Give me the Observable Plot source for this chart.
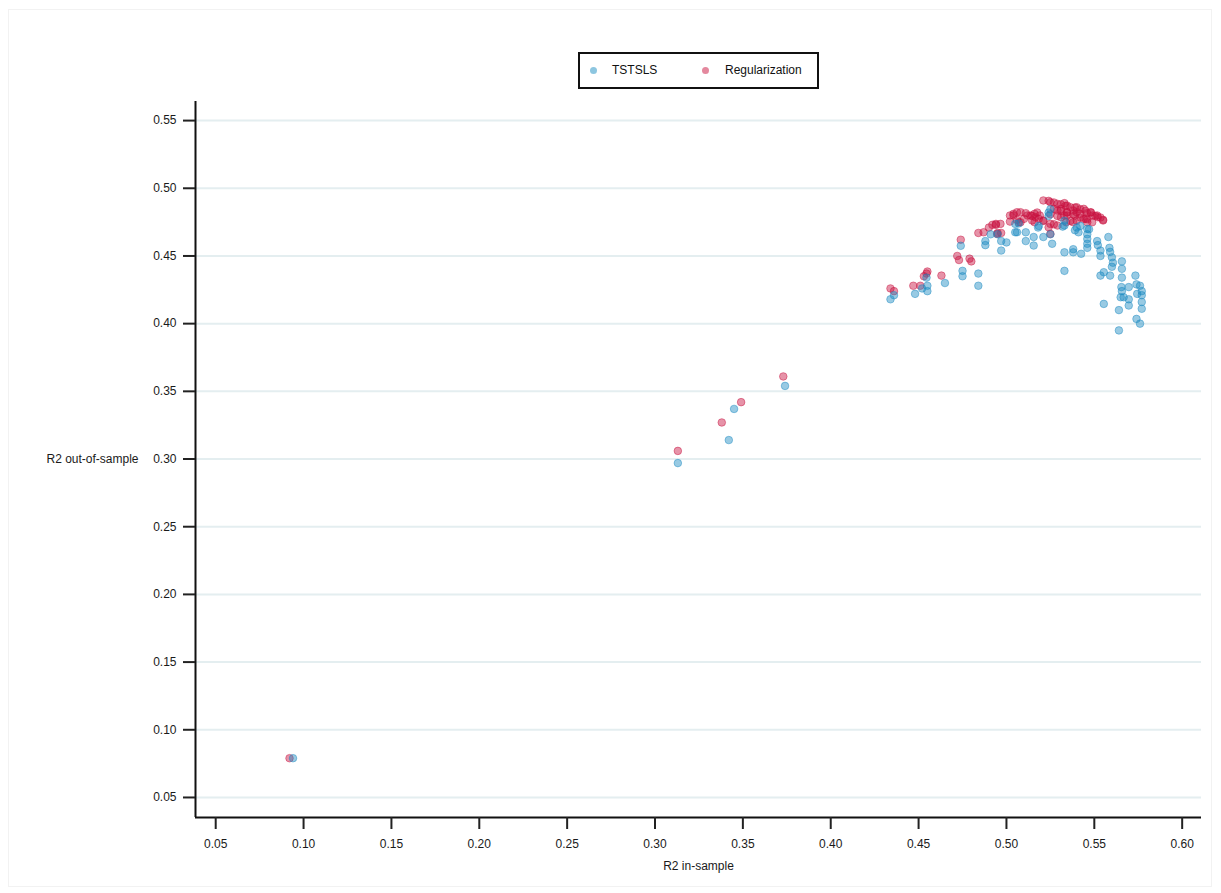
<!DOCTYPE html>
<html><head><meta charset="utf-8">
<script src="https://cdn.jsdelivr.net/npm/d3@7"></script>
<script src="https://cdn.jsdelivr.net/npm/@observablehq/plot@0.6"></script>
<style>
body{margin:0;background:#fff;font-family:"Liberation Sans",Arial,sans-serif;}
#wrap{position:relative;width:1221px;height:893px;}
#border{position:absolute;left:8px;top:9px;width:1202px;height:876px;border:1px solid #f2f2f2;pointer-events:none;}
#legend{position:absolute;left:578px;top:52px;width:237px;height:33px;border:2px solid #111;font-size:12px;color:#111;background:#fff;}
#legend .dot{position:absolute;top:13px;width:7px;height:7px;border-radius:50%;}
#legend .lab{position:absolute;top:9px;line-height:14px;}
</style></head>
<body>
<div id="wrap">
<div id="border"></div>
<div id="chart"></div>
<div id="legend">
  <span class="dot" style="left:10px;background:#8dc6e0"></span><span class="lab" style="left:32px">TSTSLS</span>
  <span class="dot" style="left:122px;background:#e4889e"></span><span class="lab" style="left:145px">Regularization</span>
</div>
</div>
<script>
const BLUE = "#1a8ac0";
const RED = "#c8103d";
const xTicks = [0.05,0.10,0.15,0.20,0.25,0.30,0.35,0.40,0.45,0.50,0.55,0.60];
const yTicks = [0.05,0.10,0.15,0.20,0.25,0.30,0.35,0.40,0.45,0.50,0.55];
const xDomain = [0.0385, 0.611];
const yDomain = [0.0352, 0.5641];

const tstslsIn = [0.094,0.313,0.342,0.345,0.374,
0.434,0.436,0.448,0.452,0.4545,0.455,0.455,0.465,0.475,0.475,0.484,0.484,0.474,0.488,0.488,0.495,0.497,0.500,0.497,0.506,0.507,0.491,
0.524,0.533,0.533,0.532,0.540,0.539,0.546,0.546,0.546,0.546,0.546,0.5516,0.552,0.5535,0.5535,0.558,0.5586,0.559,0.560,0.5606,0.560,0.5657,0.5657,0.5535,0.5554,0.559,0.5657,0.5734,0.574,0.576,0.577,0.577,0.577,0.577,0.5744,0.5696,0.5654,0.5657,0.5667,0.5696,0.5696,0.565,0.5554,0.564,0.574,0.576,0.564,0.533,0.533,0.538,0.5425,0.526,0.5155,0.5155,0.511,0.511,0.505,0.505,0.521,0.518,0.541,0.538,
0.525,0.524,0.542,0.547,0.5184,0.525];
const tstslsOut = [0.079,0.297,0.314,0.337,0.354,
0.418,0.421,0.422,0.426,0.434,0.428,0.424,0.430,0.439,0.435,0.437,0.428,0.4575,0.461,0.458,0.466,0.461,0.460,0.454,0.4675,0.474,0.466,
0.482,0.476,0.4725,0.4717,0.471,0.469,0.470,0.466,0.4626,0.459,0.456,0.461,0.458,0.454,0.450,0.464,0.456,0.453,0.449,0.445,0.442,0.446,0.4405,0.4355,0.438,0.4355,0.434,0.4355,0.429,0.428,0.424,0.421,0.416,0.411,0.422,0.427,0.427,0.424,0.4195,0.418,0.4134,0.4195,0.4146,0.410,0.4035,0.400,0.395,0.4527,0.439,0.4527,0.4516,0.459,0.4577,0.464,0.461,0.4675,0.4675,0.4737,0.464,0.471,0.4675,0.455,
0.4845,0.4796,0.4722,0.4697,0.4722,0.466];

const regIn = [0.092,0.313,0.338,0.349,0.373,
0.434,0.436,0.447,0.451,0.4545,0.455,0.453,0.463,0.472,0.473,0.479,0.480,0.474,0.484,0.487,0.490,0.492,0.494,0.495,0.497,0.502,0.504,0.506,
0.521,0.525,0.529,0.533,0.5345,0.5364,0.531,0.527,0.538,0.540,0.542,0.546,0.549,0.552,0.555,0.544,0.5345,0.531,0.534,0.540,0.546,0.504,0.508,0.511,0.5137,0.5165,0.510,0.519,0.521,0.516,0.507,0.525,0.525,0.529,
0.502,0.506,0.512,0.516,0.494,0.4966,0.508,0.5146,0.5184,0.524,0.529,0.4947,
0.540,0.544,0.548,0.5516,0.555,0.5345,0.539,0.545,0.5488,0.538,0.533,
0.524,0.527,0.531,0.5336,0.539,0.542,0.545,0.548,0.5506,0.5535,0.531,0.5345,0.538,0.542,0.546,0.529,0.525,0.5175,0.5146,0.5364,0.521,0.527];
const regOut = [0.079,0.306,0.327,0.342,0.361,
0.426,0.424,0.428,0.428,0.437,0.4385,0.435,0.4355,0.450,0.447,0.448,0.446,0.462,0.467,0.4675,0.471,0.473,0.473,0.467,0.467,0.4754,0.480,0.4767,
0.491,0.4897,0.4885,0.489,0.4872,0.486,0.4848,0.4848,0.4836,0.4823,0.4811,0.4816,0.4799,0.4786,0.4767,0.4774,0.4799,0.4786,0.4749,0.4762,0.4749,0.4811,0.4823,0.4816,0.4799,0.4786,0.4774,0.4799,0.4762,0.4749,0.4749,0.4737,0.4663,0.4836,
0.4799,0.4823,0.4799,0.4811,0.4737,0.4737,0.4749,0.4762,0.4774,0.4712,0.4725,0.4663,
0.486,0.4848,0.4823,0.4799,0.4762,0.4823,0.4799,0.4774,0.4749,0.4749,0.4799,
0.4907,0.4895,0.4882,0.487,0.4858,0.4845,0.4833,0.4821,0.4796,0.4784,0.4833,0.4821,0.4808,0.4784,0.4771,0.4796,0.4808,0.4821,0.4796,0.4759,0.4759,0.4734];

const tstsls = tstslsIn.map((x,i)=>({x, y: tstslsOut[i]}));
const reg = regIn.map((x,i)=>({x, y: regOut[i]}));
const fmt = d => d.toFixed(2);

const chart = Plot.plot({
  width: 1221, height: 893,
  marginLeft: 195, marginRight: 20, marginTop: 101, marginBottom: 76,
  style: {fontFamily: "Liberation Sans, Arial, sans-serif", fontSize: "12px", color: "#1a1a1a", background: "transparent", overflow: "visible"},
  x: {domain: xDomain},
  y: {domain: yDomain},
  marks: [
    Plot.gridY(yTicks, {stroke: "#e4eef0", strokeOpacity: 1, strokeWidth: 2}),
    Plot.dot(reg, {x: "x", y: "y", r: 3.8, fill: RED, fillOpacity: 0.45, stroke: RED, strokeOpacity: 0.45, strokeWidth: 1}),
    Plot.dot(tstsls, {x: "x", y: "y", r: 3.8, fill: BLUE, fillOpacity: 0.45, stroke: BLUE, strokeOpacity: 0.45, strokeWidth: 1}),
    Plot.ruleX([xDomain[0]], {stroke: "#111", strokeWidth: 2}),
    Plot.ruleY([yDomain[0]], {stroke: "#111", strokeWidth: 2}),
    Plot.axisX(xTicks, {tickSize: 12, tickPadding: 10, tickFormat: fmt, stroke: "#222", strokeWidth: 2, label: null}),
    Plot.axisY(yTicks, {tickSize: 12, tickPadding: 7, tickFormat: fmt, stroke: "#222", strokeWidth: 2, label: null}),
    Plot.text(["R2 in-sample"], {frameAnchor: "bottom", dy: 49, lineAnchor: "middle", fill: "#1a1a1a"}),
    Plot.text(["R2 out-of-sample"], {frameAnchor: "left", dx: -149, textAnchor: "start", lineAnchor: "middle", fill: "#1a1a1a"})
  ]
});
document.getElementById("chart").appendChild(chart);
</script>
</body></html>
